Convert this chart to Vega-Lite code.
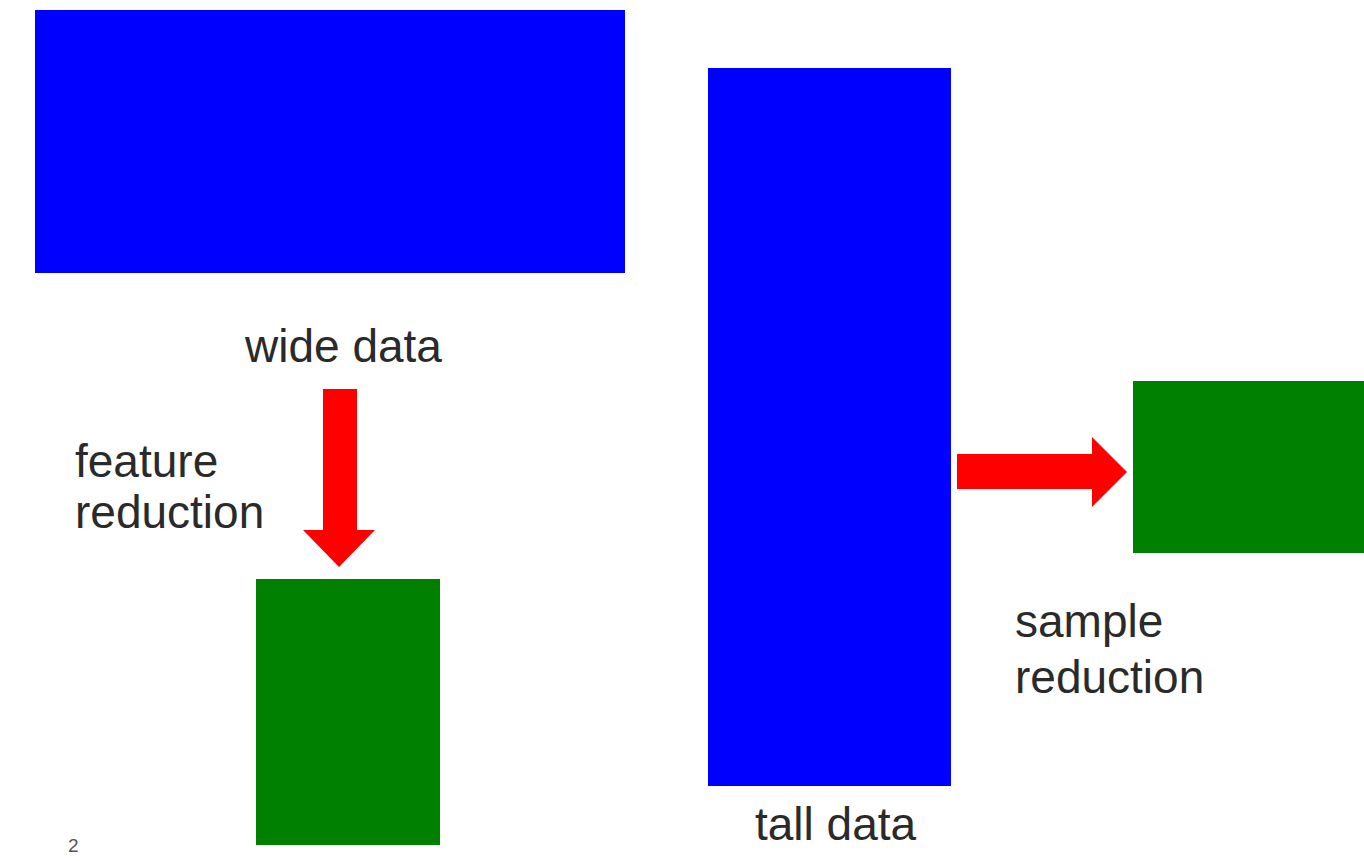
{
  "$schema": "https://vega.github.io/schema/vega-lite/v6.json",
  "autosize": {"type": "fit", "contains": "padding"},
  "width": 1364,
  "height": 861,
  "padding": 0,
  "background": "white",
  "config": {"view": {"stroke": null}},
  "datasets": {
    "boxes": [
      {"name": "wide data", "part": "data", "x0": 35, "x1": 625, "y0": 10, "y1": 273},
      {"name": "tall data", "part": "data", "x0": 708, "x1": 951, "y0": 68, "y1": 786},
      {"name": "feature reduced", "part": "reduced", "x0": 256, "x1": 440, "y0": 579, "y1": 845},
      {"name": "sample reduced", "part": "reduced", "x0": 1133, "x1": 1364, "y0": 381, "y1": 553},
      {"name": "down shaft", "part": "arrow", "x0": 323, "x1": 357, "y0": 389, "y1": 532},
      {"name": "right shaft", "part": "arrow", "x0": 957, "x1": 1094, "y0": 454, "y1": 489}
    ],
    "heads": [
      {"name": "down head", "part": "arrow", "x": 339, "y": 548.5, "dir": "down"},
      {"name": "right head", "part": "arrow", "x": 1109.5, "y": 472, "dir": "right"}
    ],
    "labels": [
      {"label": "wide data", "x": 245, "y": 362, "kind": "big"},
      {"label": "feature", "x": 75, "y": 477, "kind": "big"},
      {"label": "reduction", "x": 75, "y": 528, "kind": "big"},
      {"label": "sample", "x": 1015, "y": 637, "kind": "big"},
      {"label": "reduction", "x": 1015, "y": 693, "kind": "big"},
      {"label": "tall data", "x": 755, "y": 840, "kind": "big"},
      {"label": "2", "x": 68, "y": 852, "kind": "page"}
    ]
  },
  "layer": [
    {
      "data": {"name": "boxes"},
      "mark": {"type": "rect"},
      "encoding": {
        "x": {"field": "x0", "type": "quantitative", "scale": {"domain": [0, 1364], "nice": false, "zero": false}, "axis": null},
        "x2": {"field": "x1"},
        "y": {"field": "y0", "type": "quantitative", "scale": {"domain": [0, 861], "nice": false, "zero": false, "reverse": true}, "axis": null},
        "y2": {"field": "y1"},
        "color": {"field": "part", "type": "nominal", "scale": {"domain": ["data", "reduced", "arrow"], "range": ["#0000ff", "#008000", "#ff0000"]}, "legend": null}
      }
    },
    {
      "data": {"name": "heads"},
      "transform": [{"filter": "datum.dir === 'down'"}],
      "mark": {"type": "point", "filled": true, "opacity": 1, "shape": "M-1,-0.514L1,-0.514L0,0.514Z", "size": 5184, "strokeWidth": 0},
      "encoding": {
        "x": {"field": "x", "type": "quantitative"},
        "y": {"field": "y", "type": "quantitative"},
        "color": {"field": "part", "type": "nominal", "legend": null}
      }
    },
    {
      "data": {"name": "heads"},
      "transform": [{"filter": "datum.dir === 'right'"}],
      "mark": {"type": "point", "filled": true, "opacity": 1, "shape": "M-0.5,-1L0.5,0L-0.5,1Z", "size": 4900, "strokeWidth": 0},
      "encoding": {
        "x": {"field": "x", "type": "quantitative"},
        "y": {"field": "y", "type": "quantitative"},
        "color": {"field": "part", "type": "nominal", "legend": null}
      }
    },
    {
      "data": {"name": "labels"},
      "transform": [{"filter": "datum.kind === 'big'"}],
      "mark": {"type": "text", "align": "left", "baseline": "alphabetic", "font": "Liberation Sans", "fontSize": 46, "color": "#2a2a2a"},
      "encoding": {
        "x": {"field": "x", "type": "quantitative"},
        "y": {"field": "y", "type": "quantitative"},
        "text": {"field": "label"}
      }
    },
    {
      "data": {"name": "labels"},
      "transform": [{"filter": "datum.kind === 'page'"}],
      "mark": {"type": "text", "align": "left", "baseline": "alphabetic", "font": "Liberation Sans", "fontSize": 19, "color": "#555555"},
      "encoding": {
        "x": {"field": "x", "type": "quantitative"},
        "y": {"field": "y", "type": "quantitative"},
        "text": {"field": "label"}
      }
    }
  ]
}
